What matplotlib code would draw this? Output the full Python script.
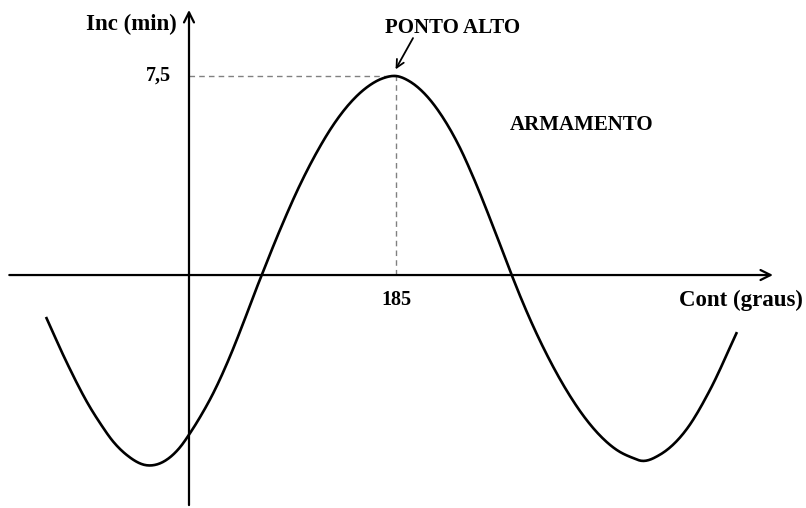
import matplotlib.pyplot as plt
import numpy as np

# curva (Cont em graus, Inc em min)
cont = [-127.8, -109.0, -88.5, -79.5, -67.7, -55.7, -37.8, -19.9, -8.0, 0.9,
        9.8, 21.7, 36.6, 48.5, 59.0, 65.0, 81.3, 99.2, 114.1, 129.0,
        143.9, 158.8, 173.6, 185.0, 197.5, 212.4, 227.3, 242.2, 254.1, 273.5,
        288.4, 295.8, 307.7, 322.6, 337.6, 352.4, 367.3, 382.2, 397.1, 404.0,
        420.9, 445.1, 465.6, 489.7]
inc = [-1.58, -3.32, -4.98, -5.58, -6.28, -6.78, -7.17, -6.96, -6.49, -5.96,
       -5.36, -4.45, -3.07, -1.81, -0.64, 0.0, 1.70, 3.40, 4.62, 5.66,
       6.48, 7.07, 7.42, 7.5, 7.29, 6.75, 5.91, 4.79, 3.68, 1.64,
       0.0, -0.78, -1.94, -3.23, -4.36, -5.30, -6.05, -6.59, -6.90, -7.00,
       -6.77, -5.79, -4.33, -2.15]

pico_x = 185
pico_y = 7.5
ticks_x = ["185"]
ticks_y = ["7,5"]

fonte = ['Liberation Serif', 'DejaVu Serif']

# so para desenhar a curva lisa (hermite cubico entre os pontos lidos)
def liso(x, y, n=15):
    x = np.asarray(x, float)
    y = np.asarray(y, float)
    h = np.diff(x)
    d = np.diff(y) / h
    m = np.empty_like(y)
    m[0] = d[0]
    m[-1] = d[-1]
    m[1:-1] = (d[1:] * h[:-1] + d[:-1] * h[1:]) / (h[:-1] + h[1:])
    xs, ys = [], []
    t = np.linspace(0, 1, n, endpoint=False)
    for i in range(len(h)):
        h00 = 2*t**3 - 3*t**2 + 1
        h10 = t**3 - 2*t**2 + t
        h01 = -2*t**3 + 3*t**2
        h11 = t**3 - t**2
        xs.append(x[i] + t*h[i])
        ys.append(h00*y[i] + h10*h[i]*m[i] + h01*y[i+1] + h11*h[i]*m[i+1])
    xs.append([x[-1]])
    ys.append([y[-1]])
    return np.concatenate(xs), np.concatenate(ys)

fig = plt.figure(figsize=(8.06, 5.08), dpi=100)
ax = fig.add_axes([0, 0, 1, 1])
ax.set_xlim(-168.9, 551.4)
ax.set_ylim(-8.78, 10.365)
ax.axis('off')

# eixos com setas
ax.annotate('', xy=(521.9, 0), xytext=(-160.6, 0),
            arrowprops=dict(arrowstyle='->', lw=1.6, color='black', mutation_scale=18,
                            shrinkA=0, shrinkB=0))
ax.annotate('', xy=(0, 9.99), xytext=(0, -8.67),
            arrowprops=dict(arrowstyle='->', lw=1.6, color='black', mutation_scale=18,
                            shrinkA=0, shrinkB=0))

# linhas tracejadas do ponto alto
ax.plot([0, pico_x], [pico_y, pico_y], ls='--', color='gray', lw=1.0, dashes=(4, 3))
ax.plot([pico_x, pico_x], [0, pico_y], ls='--', color='gray', lw=1.0, dashes=(4, 3))

xs, ys = liso(cont, inc)
ax.plot(xs, ys, color='black', lw=1.9, solid_capstyle='butt')

ax.text(-10.7, 9.45, "Inc (min)", ha='right', va='center', fontsize=16.5,
        fontweight='bold', family=fonte)
ax.text(-16, pico_y, ticks_y[0], ha='right', va='center', fontsize=14.5,
        fontweight='bold', family=fonte)
ax.text(pico_x, -0.94, ticks_x[0], ha='center', va='center', fontsize=14.5,
        fontweight='bold', family=fonte)
ax.text(551.4 - 2.5, -0.94, "Cont (graus)", ha='right', va='center', fontsize=16.5,
        fontweight='bold', family=fonte)
ax.text(286.9, 5.65, "ARMAMENTO", ha='left', va='center', fontsize=15,
        fontweight='bold', family=fonte)
ax.text(175.2, 9.31, "PONTO ALTO", ha='left', va='center', fontsize=15,
        fontweight='bold', family=fonte)
ax.annotate('', xy=(184.6, 7.75), xytext=(200.2, 8.93),
            arrowprops=dict(arrowstyle='->', lw=1.3, color='black', mutation_scale=14,
                            shrinkA=0, shrinkB=0))

fig.savefig('out.png', dpi=100)
